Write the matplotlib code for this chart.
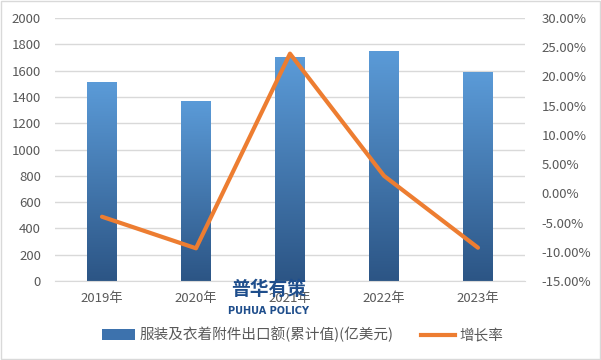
import matplotlib
matplotlib.use('Agg')
from matplotlib import pyplot as plt
from matplotlib.colors import LinearSegmentedColormap
from matplotlib.lines import Line2D
from matplotlib.patches import Rectangle
import numpy as np

plt.rcParams['font.family'] = ['Noto Sans CJK SC', 'DejaVu Sans']

years = ['2019年', '2020年', '2021年', '2022年', '2023年']
export_value = [1513, 1369, 1703, 1749, 1589]   # 亿美元
growth_rate = [-4.0, -9.4, 23.9, 3.0, -9.3]     # %

bar_label = '服装及衣着附件出口额(累计值)(亿美元)'
line_label = '增长率'

grey = '#595959'
grad = LinearSegmentedColormap.from_list('bar', ['#2c5585', '#5b9bd8'])

fig = plt.figure(figsize=(6.01, 3.6), dpi=100)
ax = fig.add_axes([0.0915, 0.2194, 0.782, 0.7306])
x = np.arange(len(years))

# bars with a vertical gradient, clipped to each bar
bars = ax.bar(x, export_value, width=0.31, color='none', zorder=2)
gradient = np.linspace(0, 1, 256).reshape(-1, 1)
for b in bars:
    img = ax.imshow(gradient, cmap=grad, aspect='auto', origin='lower',
                    extent=[b.get_x(), b.get_x() + b.get_width(), 0, b.get_height()],
                    zorder=2)
    img.set_clip_path(b)

ax.set_xlim(-0.5, len(years) - 0.5)
ax.set_ylim(0, 2000)
ax.set_yticks(range(0, 2001, 200))
ax.set_xticks(x)
ax.set_xticklabels(years)
ax.grid(axis='y', color='#d9d9d9', linewidth=1)
ax.set_axisbelow(True)
for s in ['top', 'right', 'left']:
    ax.spines[s].set_visible(False)
ax.spines['bottom'].set_color('#d9d9d9')
ax.tick_params(axis='both', length=0, colors=grey, labelsize=9.5)
ax.tick_params(axis='y', pad=10)
ax.tick_params(axis='x', pad=8)

# growth rate on right axis
ax2 = ax.twinx()
ax2.plot(x, growth_rate, color='#ed7d31', linewidth=3, solid_capstyle='round', zorder=3)
ax2.set_ylim(-15, 30)
ax2.set_yticks(range(-15, 31, 5))
ax2.set_yticklabels(['%.2f%%' % v for v in range(-15, 31, 5)])
for s in ax2.spines.values():
    s.set_visible(False)
ax2.tick_params(axis='y', length=0, colors=grey, labelsize=9.5, pad=12)

# legend below the chart
handles = [Rectangle((0, 0), 1, 1, facecolor='#3d72ad', edgecolor='none'),
           Line2D([0], [0], color='#ed7d31', linewidth=3)]
fig.legend(handles, [bar_label, line_label], loc='center', bbox_to_anchor=(0.503, 0.07),
           ncol=2, frameon=False, fontsize=10.5, labelcolor=grey, handlelength=2.3,
           handletextpad=0.3, columnspacing=1.9)

# watermark
fig.text(0.447, 0.197, '普华有策', fontsize=13.5, fontweight='bold', color='#1f4e8c',
         ha='center', va='center', zorder=10)
fig.text(0.447, 0.135, 'PUHUA POLICY', fontsize=7, fontweight='bold', color='#1f4e8c',
         ha='center', va='center', zorder=10, family='DejaVu Sans')

fig.patches.append(Rectangle((0.001, 0.002), 0.997, 0.995, transform=fig.transFigure,
                             fill=False, edgecolor='#d9d9d9', linewidth=1))

plt.savefig('out.png', dpi=100)
